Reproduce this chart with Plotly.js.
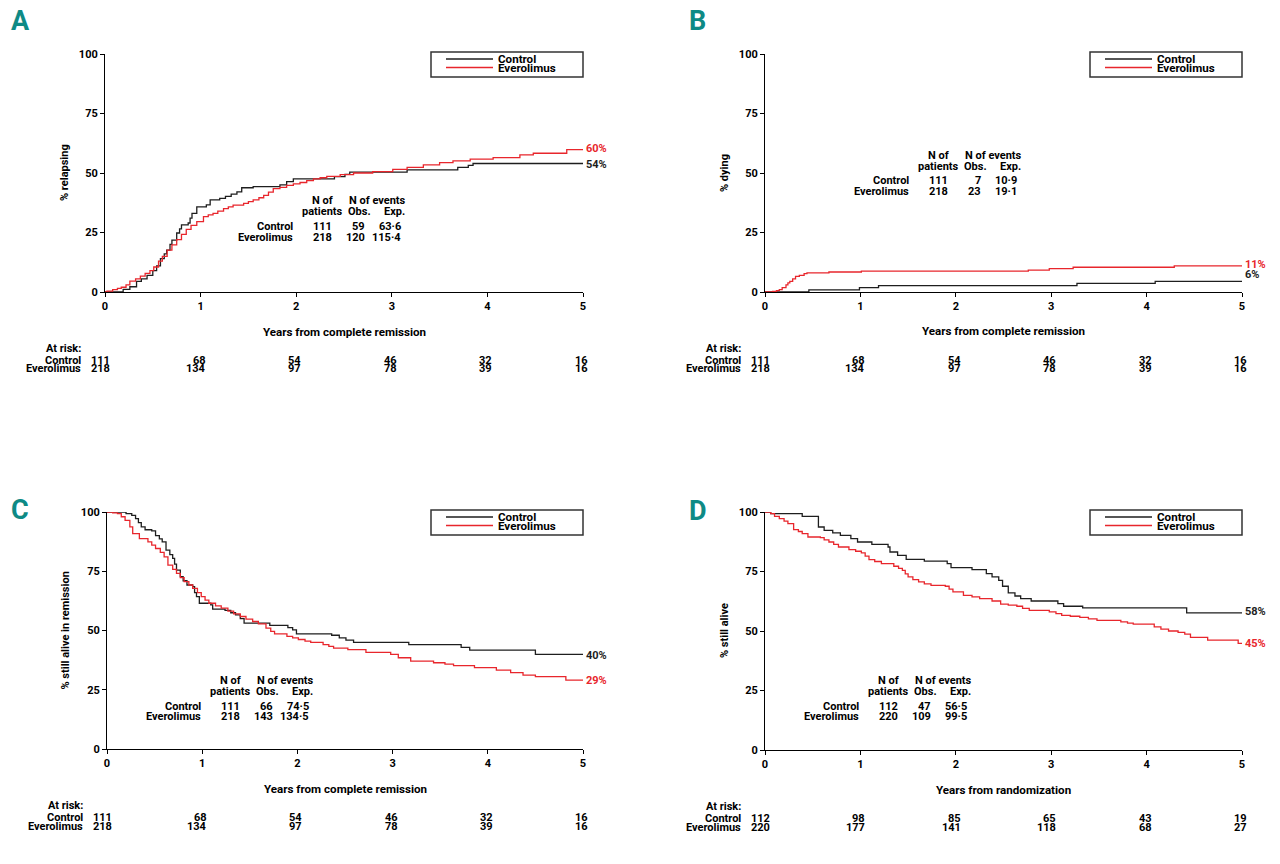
<!DOCTYPE html>
<html>
<head>
<meta charset="utf-8">
<script src="https://cdn.plot.ly/plotly-3.0.1.min.js"></script>
<style>html,body{margin:0;padding:0;background:#fff;}#chart{width:1280px;height:864px;}</style>
</head>
<body>
<div id="chart"></div>
<script>
// ---------------- DATA ----------------
const xTicks = [0, 1, 2, 3, 4, 5];
const yTicks = [0, 25, 50, 75, 100];
const groupNames = ["Control", "Everolimus"];

// Panel A: % relapsing
const aCtrlT = [0,0.19,0.26,0.33,0.38,0.44,0.5,0.54,0.58,0.62,0.645,0.68,0.70,0.75,0.78,0.80,0.87,0.89,0.91,0.96,1.06,1.10,1.20,1.26,1.32,1.38,1.43,1.55,1.83,1.90,1.97,2.40,2.51,2.56,3.16,3.69,3.80,3.85,5];
const aCtrlY = [0,1.1,2.2,4.5,5.5,7,9,11,14,16,17.6,20,21.8,24.8,26.5,28.2,29,31,33,35.8,36.6,38.7,39.3,40.2,41.1,42.1,43.8,44.3,45,46.4,47.5,48.5,49.4,50.4,51.3,52.4,53.2,54,54];
const aEveT = [0,0.02,0.08,0.13,0.17,0.22,0.26,0.32,0.37,0.42,0.47,0.51,0.56,0.60,0.65,0.70,0.75,0.80,0.85,0.90,0.96,1.03,1.08,1.13,1.18,1.24,1.29,1.34,1.45,1.50,1.55,1.61,1.66,1.71,1.76,1.83,1.90,1.97,2.04,2.11,2.18,2.25,2.32,2.46,2.60,2.80,3.01,3.16,3.33,3.50,3.64,3.82,4.06,4.34,4.48,4.83,5];
const aEveY = [0,0.4,1,1.5,2,3,4.6,5.5,6.7,7.8,9,10.5,13,15,17.6,19.8,22,24.2,26.3,28,29.6,31.7,32.4,33,34,35,35.8,36.5,37.2,38,38.7,39.6,40.6,42,43.4,44,44.8,45.4,46,46.8,47.5,48,48.6,49.3,50,50.6,51.5,52.4,53.4,54.4,55.1,55.8,56.5,57.6,58.3,59.8,59.8];
const aAtRiskCtrl = [111, 68, 54, 46, 32, 16];
const aAtRiskEve = [218, 134, 97, 78, 39, 16];
const aStats = [["111", "59", "63·6"], ["218", "120", "115·4"]];
const aEnd = ["54%", "60%"];

// Panel B: % dying
const bCtrlT = [0,0.46,0.99,1.19,3.27,4.09,5];
const bCtrlY = [0,0.9,1.8,2.7,3.6,4.5,4.5];
const bEveT = [0,0.08,0.12,0.15,0.18,0.22,0.24,0.26,0.29,0.32,0.36,0.41,0.44,0.67,1.01,2.76,2.98,3.23,4.29,5];
const bEveY = [0,0.3,0.6,1,1.8,3,3.8,4.5,5.5,6.6,7,7.7,8,8.4,8.8,9.2,9.8,10.4,11,11];
const bAtRiskCtrl = [111, 68, 54, 46, 32, 16];
const bAtRiskEve = [218, 134, 97, 78, 39, 16];
const bStats = [["111", "7", "10·9"], ["218", "23", "19·1"]];
const bEnd = ["6%", "11%"];

// Panel C: % still alive in remission
const cCtrlT = [0,0.2,0.26,0.30,0.33,0.36,0.40,0.47,0.51,0.55,0.58,0.62,0.66,0.69,0.71,0.73,0.77,0.80,0.84,0.90,0.92,0.94,0.97,1.09,1.11,1.24,1.30,1.35,1.40,1.44,1.71,1.90,1.95,1.99,2.36,2.44,2.51,2.59,3.17,3.72,3.81,4.5,5];
const cCtrlY = [100,99.3,98.6,97.2,95.5,93.7,92.5,92,90,88.7,87.4,83.9,82,80.4,78,75.5,72.7,71,69.2,68.5,66,64.3,61.5,60.8,59,58.5,57.5,56.6,55,53.1,52.2,51.2,50.3,48.6,48,46.9,45.9,45,44,42.9,41.7,39.9,39.9];
const cEveT = [0,0.06,0.11,0.15,0.19,0.24,0.27,0.34,0.43,0.47,0.51,0.56,0.60,0.64,0.69,0.73,0.77,0.81,0.86,0.90,0.95,0.99,1.03,1.07,1.14,1.20,1.27,1.33,1.40,1.46,1.53,1.59,1.67,1.72,1.76,1.89,1.95,2.01,2.08,2.14,2.27,2.33,2.38,2.53,2.72,2.98,3.06,3.19,3.43,3.55,3.64,3.86,4.09,4.24,4.37,4.50,4.82,5];
const cEveY = [100,99.6,99.3,98,96.5,93.7,90.9,88.8,87.4,86,84.6,83,81.1,77.6,75.8,74.1,72.3,70.6,69.2,67.8,66,64.3,62.8,61.5,60.4,59.4,58.2,57,55.9,54.8,53.8,52.8,51,49.6,48.6,47.5,46.9,46.2,45.5,45,44,43.3,42.6,41.9,40.8,39.9,38.5,37.1,36.4,35.8,35.2,34.3,33.3,32.2,31.2,30.5,29.1,29.1];
const cAtRiskCtrl = [111, 68, 54, 46, 32, 16];
const cAtRiskEve = [218, 134, 97, 78, 39, 16];
const cStats = [["111", "66", "74·5"], ["218", "143", "134·5"]];
const cEnd = ["40%", "29%"];

// Panel D: % still alive
const dCtrlT = [0,0.06,0.39,0.56,0.62,0.71,0.79,0.90,0.97,1.12,1.29,1.31,1.39,1.48,1.67,1.91,1.95,2.17,2.32,2.38,2.45,2.49,2.55,2.62,2.68,2.79,3.07,3.13,3.33,4.42,5];
const dCtrlY = [100,99.3,98.2,93.7,92.3,91.2,90.2,88.8,87.4,86.4,85.3,83.2,81.8,80.1,79.4,78.3,76.6,75.8,74.1,72.7,71.3,68.8,66,64.7,63.6,62.6,61.5,60.4,59.7,57.6,57.6];
const dEveT = [0,0.06,0.10,0.15,0.20,0.24,0.30,0.35,0.39,0.45,0.58,0.62,0.67,0.72,0.77,0.88,0.95,1.01,1.05,1.09,1.15,1.22,1.35,1.40,1.44,1.47,1.50,1.55,1.61,1.67,1.74,1.89,1.93,1.97,2.08,2.17,2.25,2.38,2.47,2.55,2.64,2.70,2.77,2.98,3.05,3.11,3.20,3.30,3.39,3.48,3.73,3.80,3.86,4.08,4.15,4.23,4.33,4.40,4.46,4.64,4.96,5];
const dEveY = [100,99.3,98.2,97.2,96.2,95.1,92.6,91.8,90.9,89.5,89.2,88.3,87.4,86.4,85.3,84.2,83.5,82.8,81.5,80,79.2,78.3,77.2,76.3,75.5,74,72.7,71.6,70.6,69.8,69.2,68.8,67.6,66.4,65,64.3,63.6,62.6,61.3,60.9,60.4,59.5,58.7,58,57.3,56.6,56.2,55.7,55.1,54.5,53.8,53.3,52.9,51.7,50.8,50,49.4,48.7,47.3,46.2,44.8,44.8];
const dAtRiskCtrl = [112, 98, 85, 65, 43, 19];
const dAtRiskEve = [220, 177, 141, 118, 68, 27];
const dStats = [["112", "47", "56·5"], ["220", "109", "99·5"]];
const dEnd = ["58%", "45%"];

// ---------------- STYLE / LAYOUT ----------------
const W = 1280, H = 864;
const FONT = "Roboto, 'Liberation Sans', Arial, sans-serif";
const BLACK = "#1e1e1e", RED = "#e8262c", TEAL = "#0e8a85";
const fx = p => p / W, fy = p => 1 - p / H;

const panels = [
  {id: "A", ct: aCtrlT, cy: aCtrlY, et: aEveT, ey: aEveY, rc: aAtRiskCtrl, re: aAtRiskEve, st: aStats, end: aEnd,
   ytitle: "% relapsing", xtitle: "Years from complete remission",
   L: 105, R: 583, T: 54, B: 292, letter: [10, 21], risk: [348, 360, 369], statPos: [294, 201], endY: [164, 148], endCol: [BLACK, RED], ytx: 64, xty: 332},
  {id: "B", ct: bCtrlT, cy: bCtrlY, et: bEveT, ey: bEveY, rc: bAtRiskCtrl, re: bAtRiskEve, st: bStats, end: bEnd,
   ytitle: "% dying", xtitle: "Years from complete remission",
   L: 765, R: 1242, T: 54, B: 292, letter: [688, 21], risk: [348, 360, 369], statPos: [910, 155], endY: [275, 264], endCol: [BLACK, RED], ytx: 724, xty: 331},
  {id: "C", ct: cCtrlT, cy: cCtrlY, et: cEveT, ey: cEveY, rc: cAtRiskCtrl, re: cAtRiskEve, st: cStats, end: cEnd,
   ytitle: "% still alive in remission", xtitle: "Years from complete remission",
   L: 107, R: 583, T: 512, B: 749, letter: [10, 510], risk: [805, 817, 826], statPos: [202, 680], endY: [655, 680], endCol: [BLACK, RED], ytx: 65, xty: 789},
  {id: "D", ct: dCtrlT, cy: dCtrlY, et: dEveT, ey: dEveY, rc: dAtRiskCtrl, re: dAtRiskEve, st: dStats, end: dEnd,
   ytitle: "% still alive", xtitle: "Years from randomization",
   L: 765, R: 1242, T: 512, B: 750, letter: [688, 511], risk: [806, 818, 827], statPos: [860, 680], endY: [611, 643], endCol: [BLACK, RED], ytx: 724, xty: 790}
];

const data = [];
const layout = {
  width: W, height: H, margin: {l: 0, r: 0, t: 0, b: 0},
  paper_bgcolor: "#fff", plot_bgcolor: "rgba(0,0,0,0)",
  showlegend: false, font: {family: FONT, size: 11, color: "#000", weight: "bold"},
  annotations: [], shapes: []
};
const tf = {family: FONT, size: 11, color: "#000", weight: "bold"};
const sf = {family: FONT, size: 11, color: "#000", weight: "bold"};
const titleFont = {family: FONT, size: 11.6, color: "#000", weight: "bold"};
function ann(o) { layout.annotations.push(Object.assign({showarrow: false, font: tf, borderpad: 0}, o)); }

panels.forEach((p, i) => {
  const n = i === 0 ? "" : String(i + 1);
  const xa = "x" + n, ya = "y" + n;
  layout["xaxis" + n] = {
    domain: [fx(p.L), fx(p.R)], anchor: ya, range: [0, 5], tickvals: xTicks,
    ticks: "outside", ticklen: 4, tickwidth: 1, tickcolor: "#000",
    showline: true, linecolor: "#000", linewidth: 1, showgrid: false, zeroline: false,
    tickfont: tf, fixedrange: true
  };
  layout["yaxis" + n] = {
    domain: [fy(p.B), fy(p.T)], anchor: xa, range: [0, 100], tickvals: yTicks,
    ticks: "outside", ticklen: 4, tickwidth: 1, tickcolor: "#000",
    showline: true, linecolor: "#000", linewidth: 1, showgrid: false, zeroline: false,
    tickfont: tf, fixedrange: true
  };
  data.push({x: p.ct, y: p.cy, xaxis: xa, yaxis: ya, type: "scatter", mode: "lines", name: groupNames[0],
             line: {shape: "hv", color: BLACK, width: 1.3}, hoverinfo: "skip"});
  data.push({x: p.et, y: p.ey, xaxis: xa, yaxis: ya, type: "scatter", mode: "lines", name: groupNames[1],
             line: {shape: "hv", color: RED, width: 1.3}, hoverinfo: "skip"});

  // panel letter
  ann({xref: "paper", yref: "paper", x: fx(p.letter[0]), y: fy(p.letter[1]), xanchor: "left", yanchor: "middle",
       text: p.id, font: {family: FONT, size: 27, color: TEAL, weight: "bold"}});
  // axis titles
  ann({xref: "paper", yref: "paper", x: fx(p.ytx), y: fy((p.T + p.B) / 2), xanchor: "center", yanchor: "middle",
       textangle: -90, text: p.ytitle});
  ann({xref: "paper", yref: "paper", x: fx((p.L + p.R) / 2), y: fy(p.xty), xanchor: "center", yanchor: "middle",
       text: p.xtitle, font: titleFont});
  // legend box
  const lx1 = p.R, lx0 = p.R - 152, ly0 = p.T - 2, ly1 = p.T + 23;
  layout.shapes.push({type: "rect", xref: "paper", yref: "paper", x0: fx(lx0), x1: fx(lx1), y0: fy(ly1), y1: fy(ly0),
                      line: {color: "#333", width: 1.5}, fillcolor: "rgba(0,0,0,0)"});
  [[BLACK, 7, groupNames[0]], [RED, 15.5, groupNames[1]]].forEach(([c, dy, t]) => {
    layout.shapes.push({type: "line", xref: "paper", yref: "paper", x0: fx(lx0 + 15), x1: fx(lx0 + 62),
                        y0: fy(ly0 + dy), y1: fy(ly0 + dy), line: {color: c, width: 1.3}});
    ann({xref: "paper", yref: "paper", x: fx(lx0 + 66), y: fy(ly0 + dy), xanchor: "left", yanchor: "middle", text: t,
         font: titleFont});
  });
  // end labels
  p.end.forEach((t, k) => {
    ann({xref: xa, yref: "paper", x: 5, y: fy(p.endY[k]), xanchor: "left", yanchor: "middle", xshift: 2, text: t,
         font: Object.assign({}, tf, {color: p.endCol[k]})});
  });
  // stats table
  const [sx, sy] = p.statPos;
  ann({xref: "paper", yref: "paper", x: fx(sx + 28), y: fy(sy), xanchor: "center", yanchor: "middle", text: "N of"});
  ann({xref: "paper", yref: "paper", x: fx(sx + 28), y: fy(sy + 11), xanchor: "center", yanchor: "middle", text: "patients"});
  ann({xref: "paper", yref: "paper", x: fx(sx + 83), y: fy(sy), xanchor: "center", yanchor: "middle", text: "N of events"});
  ann({xref: "paper", yref: "paper", x: fx(sx + 78), y: fy(sy + 11), xanchor: "right", yanchor: "middle", text: "Obs."});
  ann({xref: "paper", yref: "paper", x: fx(sx + 112), y: fy(sy + 11), xanchor: "right", yanchor: "middle", text: "Exp."});
  groupNames.forEach((g, r) => {
    const yy = fy(sy + 26 + r * 10.5);
    ann({xref: "paper", yref: "paper", x: fx(sx), y: yy, xanchor: "right", yanchor: "middle", text: g});
    ann({xref: "paper", yref: "paper", x: fx(sx + 28), y: yy, xanchor: "center", yanchor: "middle", text: p.st[r][0]});
    ann({xref: "paper", yref: "paper", x: fx(sx + 72), y: yy, xanchor: "right", yanchor: "middle", text: p.st[r][1]});
    ann({xref: "paper", yref: "paper", x: fx(sx + 108), y: yy, xanchor: "right", yanchor: "middle", text: p.st[r][2]});
  });
  // at risk table
  ann({xref: "paper", yref: "paper", x: fx(p.L - 23), y: fy(p.risk[0]), xanchor: "right", yanchor: "middle", text: "At risk:"});
  ann({xref: "paper", yref: "paper", x: fx(p.L - 23), y: fy(p.risk[1]), xanchor: "right", yanchor: "middle", text: groupNames[0], font: sf});
  ann({xref: "paper", yref: "paper", x: fx(p.L - 23), y: fy(p.risk[2]), xanchor: "right", yanchor: "middle", text: groupNames[1], font: sf});
  xTicks.forEach((t, k) => {
    ann({xref: xa, yref: "paper", x: t, y: fy(p.risk[1]), xanchor: "right", yanchor: "middle", xshift: 6, text: String(p.rc[k]), font: sf});
    ann({xref: xa, yref: "paper", x: t, y: fy(p.risk[2]), xanchor: "right", yanchor: "middle", xshift: 6, text: String(p.re[k]), font: sf});
  });
});

Plotly.newPlot("chart", data, layout, {staticPlot: true, displayModeBar: false});
</script>
</body>
</html>
